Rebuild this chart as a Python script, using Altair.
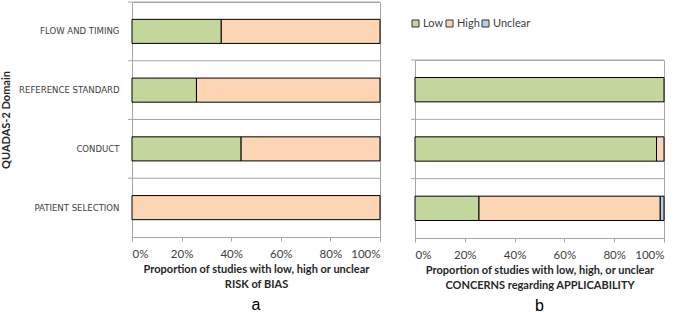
import altair as alt
import pandas as pd

# ---- data ----
levels = ["Low", "High", "Unclear"]
level_colors = ["#c3d69b", "#fcd5b5", "#b9cde5"]

domains_a = ["FLOW AND TIMING", "REFERENCE STANDARD", "CONDUCT", "PATIENT SELECTION"]
low_a = [36, 26, 44, 0]
high_a = [64, 74, 56, 100]
unclear_a = [0, 0, 0, 0]

domains_b = ["REFERENCE STANDARD", "CONDUCT", "PATIENT SELECTION"]
low_b = [100, 97, 25.7]
high_b = [0, 3, 72.8]
unclear_b = [0, 0, 1.5]

title_a = ["Proportion of studies with low, high or unclear", "RISK of BIAS"]
title_b = ["Proportion of studies with low, high, or unclear", "CONCERNS regarding APPLICABILITY"]


def to_long(domains, low, high, unclear):
    rows = []
    for d, lo, hi, un in zip(domains, low, high, unclear):
        for i, (lev, v) in enumerate(zip(levels, [lo, hi, un])):
            if v > 0:
                rows.append({"domain": d, "level": lev, "value": v / 100.0, "ord": i})
    return pd.DataFrame(rows)


df_a = to_long(domains_a, low_a, high_a, unclear_a)
df_b = to_long(domains_b, low_b, high_b, unclear_b)

GREY = "#a6a6a6"
LABEL = "#404040"
FONT = "Lato"
CAT_FONT = "DejaVu Sans Condensed"


def panel(df, domains, width, height, xtitle, letter, show_y, legend):
    y_axis = alt.Axis(
        title="QUADAS-2 Domain" if show_y else None,
        labels=show_y,
        ticks=False,
        grid=False,
        domainColor=GREY,
        labelPadding=13,
        labelFont=CAT_FONT,
        labelFontSize=9.5,
        labelColor=LABEL,
        titleFont=FONT,
        titleFontSize=11,
        titleFontWeight="bold",
        titleColor="#262626",
        titlePadding=7,
    )
    x_axis = alt.Axis(
        title=xtitle,
        format="%",
        values=[0, 0.2, 0.4, 0.6, 0.8, 1.0],
        grid=False,
        domainColor=GREY,
        tickColor=GREY,
        tickSize=4,
        labelFont=FONT,
        labelFontSize=11.5,
        labelColor=LABEL,
        labelPadding=7,
        titleFont=FONT,
        titleFontSize=11,
        titleFontWeight="bold",
        titleColor="#262626",
        titlePadding=4,
        titleLineHeight=15,
    )
    yenc = alt.Y(
        "domain:N",
        sort=domains,
        scale=alt.Scale(paddingInner=0, paddingOuter=0),
        axis=y_axis,
    )
    seps = (
        alt.Chart(pd.DataFrame({"domain": domains}))
        .mark_rule(color=GREY, strokeWidth=1)
        .encode(
            y=alt.Y("domain:N", sort=domains, bandPosition=0),
            x=alt.value(-4),
            x2=alt.value(width),
        )
    )
    bars = (
        alt.Chart(df)
        .mark_bar(stroke="black", strokeWidth=1, height={"band": 0.41})
        .encode(
            y=yenc,
            x=alt.X("value:Q", stack="zero", scale=alt.Scale(domain=[0, 1]), axis=x_axis),
            color=alt.Color(
                "level:N",
                scale=alt.Scale(domain=levels, range=level_colors),
                legend=legend,
            ),
            order=alt.Order("ord:Q"),
        )
    )
    return alt.layer(bars, seps).properties(
        width=width,
        height=height,
        view=alt.ViewBackground(stroke=GREY),
        title=alt.TitleParams(
            letter, orient="bottom", font="Liberation Sans", fontSize=16,
            fontWeight="normal", color="black", offset=7
        ),
    )


legend_b = alt.Legend(
    orient="none",
    legendX=-5,
    legendY=-42,
    direction="horizontal",
    title=None,
    symbolType="square",
    symbolSize=49,
    symbolStrokeColor="#333333",
    symbolStrokeWidth=1,
    labelFont=FONT,
    labelFontSize=11,
    labelColor=LABEL,
    labelOffset=2,
    columnPadding=0,
)

left = panel(df_a, domains_a, 248, 235, title_a, "a", True, None)
right = panel(df_b, domains_b, 249, 178, title_b, "b", False, legend_b)

spacer = (
    alt.Chart(pd.DataFrame({"v": [0]}))
    .mark_rule(opacity=0, strokeWidth=0)
    .encode(x=alt.value(1), x2=alt.value(2), y=alt.value(1))
    .properties(width=249, height=10, view=alt.ViewBackground(stroke="transparent"))
)

right_col = alt.vconcat(spacer, right, spacing=4).resolve_legend(color="independent")

chart = (
    alt.hconcat(left, right_col, spacing=28)
    .resolve_legend(color="independent")
    .properties(padding={"left": 0, "top": 1, "right": 2, "bottom": 0}, background="white")
)

chart.save("out.html", embed_options={"renderer": "svg", "actions": False})
